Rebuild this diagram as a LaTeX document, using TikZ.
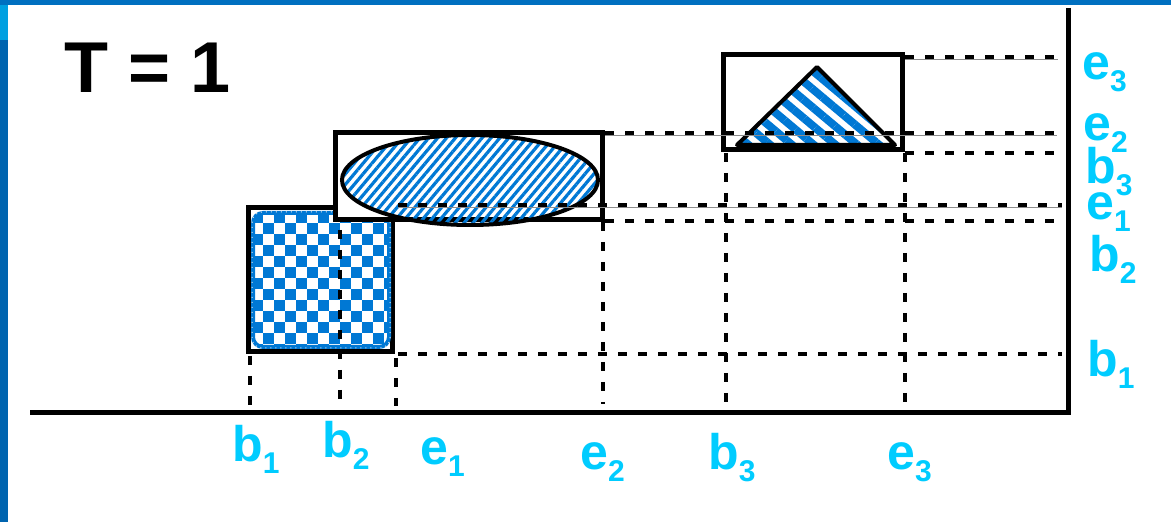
\documentclass[tikz,border=0pt]{standalone}
\usepackage{fontspec}
\setmainfont{Liberation Sans}
\usetikzlibrary{patterns.meta}
\definecolor{pblue}{RGB}{0,120,212}
\definecolor{lcyan}{RGB}{0,204,255}
\definecolor{barblue}{RGB}{0,112,192}
\definecolor{bardark}{RGB}{0,100,175}
\definecolor{barlight}{RGB}{0,160,225}
\tikzset{
  box/.style={draw=black, line width=2.5pt, fill=white},
  proj/.style={line width=2pt, dash pattern=on 4.5pt off 5.5pt},
  hair/.style={black!45, line width=0.4pt},
  lbl/.style={text=lcyan, font=\fontsize{25}{25}\selectfont\bfseries, inner sep=0pt, anchor=base west},
  shape outline/.style={draw=black, line width=2pt, line join=round},
}
\newcommand{\lab}[2]{#1\raisebox{-6pt}{\fontsize{15}{15}\selectfont #2}}
\begin{document}
\begin{tikzpicture}[x=0.5pt,y=-0.5pt]
\useasboundingbox (0,0) rectangle (1171,522);
\fill[white] (0,0) rectangle (1171,522);
% frame bars
\fill[barblue] (0,0) rectangle (1171,5);
\fill[bardark] (0,5) rectangle (8,522);
\fill[barlight] (0,5) rectangle (8,40);

% title
\node[anchor=base west, inner sep=0pt, font=\fontsize{36}{36}\selectfont\bfseries] (title) at (64,93) {T = 1};

% axes
\coordinate (origin) at (30,413);
\coordinate (xend) at (1070,413);
\coordinate (ytop) at (1068,8);
\coordinate (ybot) at (1068,415);
\draw[line width=2.5pt] (origin) -- (xend);
\draw[line width=2.5pt] (ytop) -- (ybot);

% checkered rectangle
\draw[box] (248,208) rectangle (392,352);
\begin{scope}
  \clip[rounded corners=5pt] (252,212) rectangle (390,348);
  \foreach \i in {0,...,12} {
    \foreach \j in {0,...,12} {
      \pgfmathtruncatemacro\p{mod(\i+\j,2)}
      \ifnum\p=0
        \fill[pblue] ({252+11*\i},{212+11*\j}) rectangle +(11,11);
      \fi
    }
  }
\end{scope}
\draw[pblue, line width=2pt, rounded corners=5pt] (253,213) rectangle (389,347);
\draw[white!80!gray, line width=0.5pt, dotted, rounded corners=5pt] (252,212) rectangle (390,348);

% ellipse box
\draw[box] (335,133) rectangle (602,220);
\path[pattern={Lines[angle=50,distance=3.4pt,line width=1.6pt]}, pattern color=pblue]
  (470,180) ellipse [x radius=128, y radius=45];
\draw[line width=2pt] (470,180) ellipse [x radius=128, y radius=45];

% triangle box
\draw[box] (723,55) rectangle (902,150);
\path[pattern={Lines[angle=-40,distance=7pt,line width=4pt]}, pattern color=pblue]
  (817,67) -- (737,145) -- (895,145) -- cycle;
\draw[shape outline] (817,67) -- (737,145) -- (895,145) -- cycle;

% projection lines (horizontal)
\coordinate (he3a) at (905,57);  \coordinate (he3b) at (1058,57);
\coordinate (he2a) at (605,133); \coordinate (he2b) at (1057,133);
\coordinate (hb3a) at (905,153); \coordinate (hb3b) at (1058,153);
\coordinate (he1a) at (398,205); \coordinate (he1b) at (1062,205);
\coordinate (hb2a) at (605,221); \coordinate (hb2b) at (1058,221);
\coordinate (hb1a) at (398,354); \coordinate (hb1b) at (1062,354);
\draw[hair] ([yshift=-1pt]he3a) -- ([yshift=-1pt]he3b);
\draw[hair] ([yshift=-1pt]he2a) -- ([yshift=-1pt]he2b);
\draw[hair] ([yshift=-1pt]he1a) -- ([yshift=-1pt]he1b);
\draw[proj, line width=1.6pt] (he3a) -- (he3b);
\draw[proj] (he2a) -- (he2b);
\draw[proj] (hb3a) -- (hb3b);
\draw[proj] (he1a) -- (he1b);
\draw[proj] (hb2a) -- (hb2b);
\draw[proj] (hb1a) -- (hb1b);

% projection lines (vertical)
\coordinate (vb1a) at (250,356); \coordinate (vb1b) at (250,408);
\coordinate (vb2a) at (340,230); \coordinate (vb2b) at (340,408);
\coordinate (ve1a) at (396,358); \coordinate (ve1b) at (396,406);
\coordinate (ve2a) at (603,222); \coordinate (ve2b) at (603,404);
\coordinate (vb3a) at (726,153); \coordinate (vb3b) at (726,405);
\coordinate (ve3a) at (905,153); \coordinate (ve3b) at (905,405);
\draw[proj] (vb1a) -- (vb1b);
\draw[proj] (vb2a) -- (vb2b);
\draw[proj] (ve1a) -- (ve1b);
\draw[proj] (ve2a) -- (ve2b);
\draw[proj] (vb3a) -- (vb3b);
\draw[proj] (ve3a) -- (ve3b);

% bottom labels
\node[lbl] (lb1) at (232,462) {\lab{b}{1}};
\node[lbl] (lb2) at (322,458) {\lab{b}{2}};
\node[lbl] (le1) at (420,465) {\lab{e}{1}};
\node[lbl] (le2) at (580,470) {\lab{e}{2}};
\node[lbl] (lb3) at (708,470) {\lab{b}{3}};
\node[lbl] (le3) at (887,470) {\lab{e}{3}};

% right labels
\node[lbl] (re3) at (1082,80) {\lab{e}{3}};
\node[lbl] (re2) at (1083,141) {\lab{e}{2}};
\node[lbl] (rb3) at (1085,184) {\lab{b}{3}};
\node[lbl] (re1) at (1086,220) {\lab{e}{1}};
\node[lbl] (rb2) at (1089,272) {\lab{b}{2}};
\node[lbl] (rb1) at (1087,377) {\lab{b}{1}};
\end{tikzpicture}
\end{document}
